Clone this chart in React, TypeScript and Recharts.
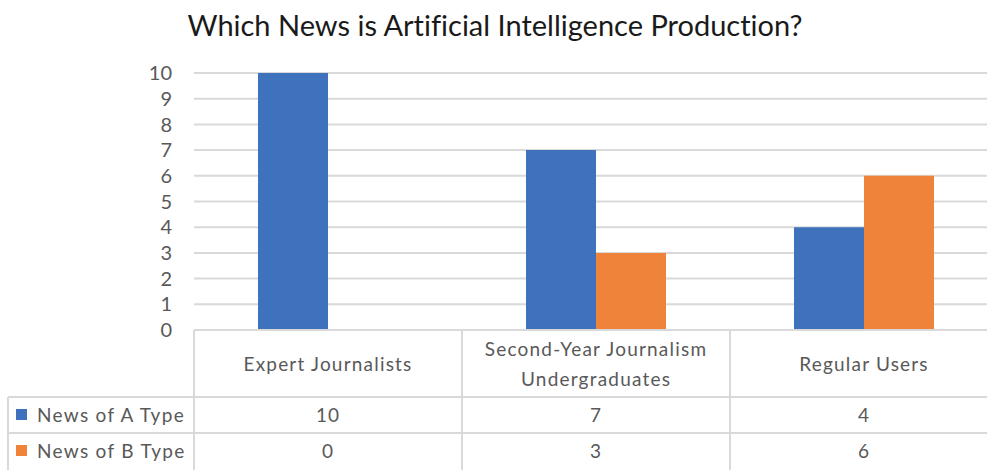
import React from "react";
import { BarChart, Bar, XAxis, YAxis, CartesianGrid } from "recharts";

const categories = ["Expert Journalists", "Second-Year Journalism\nUndergraduates", "Regular Users"];
const seriesNames = ["News of A Type", "News of B Type"];
const newsA = [10, 7, 4];
const newsB = [0, 3, 6];
const yTicks = [0, 1, 2, 3, 4, 5, 6, 7, 8, 9, 10];
const title = "Which News is Artificial Intelligence Production?";

const COLORS = ["#3F72BD", "#F0833A"];
const GRID = "#D9D9D9";
const TEXT = "#595959";
const FONT = "Lato, 'Open Sans', sans-serif";

const data = categories.map((c, i) => ({ name: c, a: newsA[i], b: newsB[i] }));
const seriesValues = [newsA, newsB];

const CHART_W = 1000;
const PLOT_LEFT = 194;
const MARGIN_RIGHT = 2;
const BAND = (CHART_W - PLOT_LEFT - MARGIN_RIGHT) / categories.length;
const ROW1 = 67;
const ROW2 = 103;
const TABLE_H = 140;

const TableTick = (props: any) => {
  const { x, y, payload, index } = props;
  const left = x - BAND / 2;
  const right = x + BAND / 2;
  const lines = String(payload.value).split("\n");
  const lineH = 30;
  const cy = y + ROW1 / 2;
  const startY = cy - ((lines.length - 1) * lineH) / 2;
  return (
    <g>
      <line x1={left} y1={y} x2={left} y2={y + TABLE_H} stroke={GRID} strokeWidth={2} />
      {index === categories.length - 1 && (
        <line x1={right} y1={y} x2={right} y2={y + TABLE_H} stroke={GRID} strokeWidth={2} />
      )}
      <line x1={index === 0 ? 8 : left} y1={y + ROW1} x2={right} y2={y + ROW1} stroke={GRID} strokeWidth={2} />
      <line x1={index === 0 ? 8 : left} y1={y + ROW2} x2={right} y2={y + ROW2} stroke={GRID} strokeWidth={2} />
      {index === 0 && (
        <g>
          <line x1={8} y1={y + ROW1} x2={8} y2={y + TABLE_H} stroke={GRID} strokeWidth={2} />
          {seriesNames.map((s, si) => {
            const rowTop = si === 0 ? y + ROW1 : y + ROW2;
            const rowMid = rowTop + 18;
            return (
              <g key={s}>
                <rect x={16} y={rowMid - 6} width={11} height={11} fill={COLORS[si]} />
                <text x={37} y={rowMid + 7} fontSize={19} fill={TEXT} fontFamily={FONT} letterSpacing={1.3}>
                  {s}
                </text>
              </g>
            );
          })}
        </g>
      )}
      {lines.map((l, li) => (
        <text
          key={li}
          x={x}
          y={startY + li * lineH + 7}
          textAnchor="middle"
          fontSize={19}
          fill={TEXT}
          fontFamily={FONT}
          letterSpacing={1.2}
        >
          {l}
        </text>
      ))}
      {seriesValues.map((vals, si) => {
        const rowTop = si === 0 ? y + ROW1 : y + ROW2;
        return (
          <text
            key={si}
            x={x}
            y={rowTop + 25}
            textAnchor="middle"
            fontSize={19}
            fill={TEXT}
            fontFamily={FONT}
            letterSpacing={1}
          >
            {vals[index]}
          </text>
        );
      })}
    </g>
  );
};

export default function App() {
  return (
    <div style={{ position: "absolute", left: 0, top: 0, width: 987, height: 470, overflow: "hidden", background: "#fff" }}>
      <div
        style={{
          position: "absolute",
          left: 0,
          top: 7,
          width: 990,
          textAlign: "center",
          fontFamily: FONT,
          fontSize: 29,
          color: "#1a1a1a",
          lineHeight: "36px",
          fontVariantLigatures: "none",
        }}
      >
        {title}
      </div>
      <BarChart
        width={CHART_W}
        height={470}
        data={data}
        margin={{ top: 73, right: MARGIN_RIGHT, bottom: 0, left: 0 }}
        barCategoryGap={64}
        barGap={0}
      >
        <CartesianGrid vertical={false} stroke={GRID} strokeWidth={2} />
        <YAxis
          width={PLOT_LEFT}
          domain={[0, 10]}
          ticks={yTicks}
          interval={0}
          axisLine={false}
          tickLine={false}
          tickSize={0}
          tickMargin={22}
          tick={{ fill: TEXT, fontSize: 20, fontFamily: FONT }}
        />
        <XAxis
          dataKey="name"
          height={TABLE_H}
          interval={0}
          axisLine={{ stroke: GRID, strokeWidth: 2 }}
          tickLine={false}
          tickSize={0}
          tickMargin={0}
          tick={<TableTick />}
        />
        <Bar dataKey="a" name={seriesNames[0]} fill={COLORS[0]} isAnimationActive={false} />
        <Bar dataKey="b" name={seriesNames[1]} fill={COLORS[1]} isAnimationActive={false} />
      </BarChart>
    </div>
  );
}
